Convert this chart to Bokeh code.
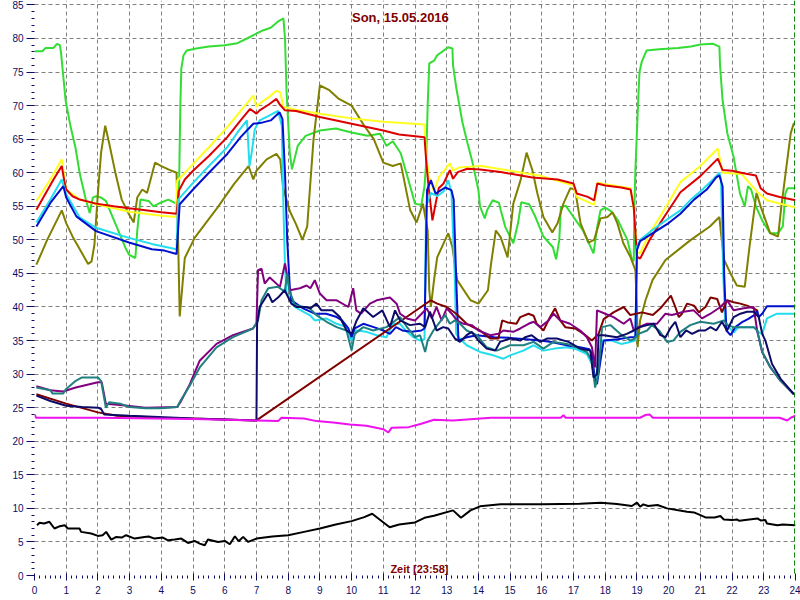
from math import pi
from bokeh.plotting import figure
from bokeh.models import Range1d, Label, Span, SingleIntervalTicker
from bokeh.embed import file_html
from bokeh.resources import INLINE

TITLE = "Son, 15.05.2016"
X_LABEL = "Zeit [23:58]"
Y_LABEL = "°C"

# ---- series data (hour of day, temperature) ----
green_h = [0.0, 0.25, 0.35, 0.6, 0.71, 0.8, 0.84, 0.98, 1.14, 1.29, 1.43, 1.63, 1.74, 1.84, 1.94, 2.1, 2.25, 2.56, 2.87, 2.98, 3.18, 3.24, 3.34, 3.6, 3.75, 3.96, 4.22, 4.43, 4.55,
           4.6, 4.63, 4.7, 4.8, 5.1, 5.5, 6.0, 6.4, 6.7, 6.95, 7.2, 7.45, 7.7, 7.85, 7.9, 7.95, 8.05, 8.12, 8.3, 8.55, 9.0, 9.5, 10.0, 10.5, 10.9, 11.1, 11.3, 11.55, 11.77, 12.0, 12.2,
           12.3, 12.35, 12.4, 12.45, 12.6, 12.7, 12.85, 13.05, 13.18, 13.2, 13.3, 13.5, 13.65, 13.8, 14.0, 14.05, 14.2, 14.28, 14.45, 14.65, 14.7, 14.85, 15.1, 15.25, 15.35, 15.6, 15.8,
           16.05, 16.35, 16.45, 16.55, 16.6, 16.75, 17.0, 17.3, 17.55, 17.63, 17.75, 17.85, 18.0, 18.2, 18.4, 18.7, 18.85, 18.9, 18.92, 18.95, 19.05, 19.08, 19.15, 19.3, 19.7, 20.3,
           20.7, 21.0, 21.4, 21.6, 21.62, 21.7, 21.85, 22.05, 22.25, 22.4, 22.5, 22.6, 22.75, 22.95, 23.2, 23.45, 23.6, 23.68, 23.75, 24.0]
green_v = [78.1, 78.1, 78.6, 78.6, 79.2, 79.0, 77.7, 70.8, 66.8, 63.8, 59.8, 55.8, 54.0, 56.3, 56.5, 56.3, 55.8, 52.3, 48.8, 47.8, 47.3, 51.3, 56.0, 55.8, 55.0, 55.5, 56.0, 55.5, 55.3,
           70.0, 75.5, 77.5, 78.2, 78.5, 78.8, 79.0, 79.3, 80.0, 80.6, 81.2, 81.6, 82.6, 83.0, 80.0, 72.0, 63.0, 60.5, 64.0, 65.5, 66.3, 66.6, 66.0, 65.5, 65.8, 64.0, 64.7, 62.9, 59.3, 55.4, 55.2,
           58.0, 61.4, 70.0, 76.3, 76.7, 77.5, 78.0, 78.7, 78.5, 76.0, 72.7, 67.4, 64.5, 61.8, 57.4, 55.0, 53.2, 54.5, 55.9, 55.5, 54.5, 51.9, 49.5, 52.5, 55.6, 55.3, 53.4,
           50.5, 48.9, 47.1, 50.0, 54.8, 55.1, 53.4, 51.4, 48.8, 48.0, 52.0, 54.4, 54.8, 54.2, 52.9, 50.0, 46.9, 46.9, 55.0, 60.4, 72.0, 75.0, 76.5, 78.2, 78.4, 78.6,
           78.8, 79.1, 79.2, 78.8, 76.0, 70.8, 65.9, 62.3, 56.9, 55.0, 58.0, 57.5, 55.0, 52.9, 51.0, 51.0, 52.0, 56.9, 57.7, 57.7]

olive_h = [0.06, 0.4, 0.86, 1.0, 1.22, 1.5, 1.69, 1.8, 1.89, 2.0, 2.1, 2.23, 2.35, 2.56, 2.75, 2.98, 3.13, 3.24, 3.4, 3.55, 3.8, 4.0, 4.22, 4.48, 4.52, 4.58, 4.74, 5.05, 5.4, 5.77,
           6.29, 6.75, 6.9, 7.0, 7.32, 7.63, 7.75, 7.84, 8.05, 8.25, 8.45, 8.6, 8.8, 9.0, 9.3, 9.6, 10.0, 10.4, 10.7, 11.0, 11.3, 11.55, 11.85, 12.05, 12.25, 12.4, 12.45, 12.5, 12.6,
           12.7, 13.05, 13.18, 13.33, 13.75, 14.0, 14.3, 14.4, 14.55, 14.7, 14.92, 15.1, 15.33, 15.52, 15.7, 15.86, 16.05, 16.33, 16.5, 16.68, 16.9, 17.05, 17.22, 17.47, 17.65,
           17.85, 18.07, 18.23, 18.38, 18.57, 18.8, 18.95, 19.0, 19.02, 19.1, 19.27, 19.49, 19.9, 20.7, 21.3, 21.6, 21.65, 21.75, 21.95, 22.15, 22.4, 22.55, 22.77, 22.9, 23.2,
           23.45, 23.55, 23.7, 23.85, 23.95]
olive_v = [46.3, 50.0, 54.4, 52.5, 50.3, 48.0, 46.4, 46.8, 49.3, 57.0, 63.0, 67.0, 64.5, 59.8, 56.0, 53.8, 52.6, 56.3, 57.5, 57.0, 61.5, 61.0, 60.5, 60.0, 52.0, 38.6, 47.3, 50.3, 52.5, 54.8,
           58.3, 61.0, 59.0, 60.3, 62.0, 62.8, 62.0, 57.8, 54.3, 52.3, 50.0, 52.0, 65.0, 73.0, 72.3, 71.0, 70.0, 67.0, 65.0, 61.5, 61.0, 61.4, 54.4, 52.6, 55.4, 51.4, 42.5, 40.0, 44.0,
           47.4, 51.0, 48.9, 44.0, 41.0, 40.5, 42.5, 46.5, 51.4, 50.4, 47.4, 55.4, 58.9, 63.0, 60.4, 56.9, 53.4, 51.1, 52.5, 55.4, 57.7, 57.5, 52.5, 49.6, 50.0,
           53.2, 53.4, 54.1, 52.5, 49.5, 47.4, 45.5, 40.0, 34.0, 38.0, 41.0, 44.0, 47.0, 50.0, 52.0, 53.4, 51.0, 47.0, 45.0, 43.2, 43.0, 49.0, 57.0, 55.0, 51.0,
           50.5, 54.8, 60.4, 65.9, 67.4]

yellow_h = [0.06, 0.5, 0.86, 0.95, 1.0, 1.43, 1.94, 2.5, 3.0, 3.5, 4.0, 4.45, 4.5, 4.84, 5.5, 6.08, 6.5, 6.9, 7.0, 7.1, 7.4, 7.63, 7.75, 7.85, 8.25, 9.0, 10.0, 11.0, 12.3,
            12.35, 12.43, 12.6, 12.75, 13.1, 13.2, 13.4, 14.1, 15.0, 16.0, 17.0, 17.1, 17.65, 17.75, 18.0, 18.8, 18.9, 19.0, 19.1, 19.4, 19.8, 20.37, 21.0, 21.55, 21.7, 22.3,
            22.8, 23.1, 24.0]
yellow_v = [55.8, 59.0, 62.0, 59.0, 57.5, 56.0, 55.3, 54.7, 54.2, 53.9, 53.6, 53.4, 58.8, 60.5, 63.8, 66.8, 69.2, 71.5, 69.8, 70.3, 71.3, 72.2, 72.0, 69.8, 69.4, 68.8, 68.1, 67.6, 67.2,
            63.0, 59.5, 57.2, 59.3, 61.4, 60.3, 60.8, 61.0, 60.3, 59.5, 58.1, 56.4, 55.2, 58.5, 58.3, 57.7, 54.5, 48.2, 48.0, 51.0, 54.0, 58.6, 61.0, 63.6, 60.0, 59.8,
            57.1, 55.9, 54.8]

red_h = [0.06, 0.3, 0.6, 0.86, 0.95, 1.0, 1.2, 1.43, 1.94, 2.5, 2.98, 3.5, 4.0, 4.48, 4.55, 4.74, 5.0, 5.5, 6.08, 6.5, 6.8, 7.0, 7.1, 7.4, 7.63, 7.73, 7.9, 8.25, 9.0, 10.0,
         11.0, 11.5, 12.3, 12.35, 12.43, 12.55, 12.65, 12.75, 12.9, 13.1, 13.2, 13.35, 13.65, 14.05, 14.7, 15.7, 16.5, 17.0, 17.1, 17.45, 17.65, 17.75, 18.0, 18.5, 18.8,
         18.9, 19.0, 19.1, 19.4, 19.8, 20.37, 21.0, 21.55, 21.7, 22.0, 22.4, 22.75, 22.9, 23.1, 23.5, 24.0]
red_v = [54.5, 56.5, 59.0, 61.0, 58.5, 57.5, 56.5, 56.0, 55.4, 55.0, 54.7, 54.4, 54.1, 53.9, 57.3, 59.0, 60.3, 62.5, 65.3, 67.8, 69.5, 68.8, 69.3, 70.2, 71.0, 70.2, 69.3, 69.2, 68.3, 67.3,
         66.3, 65.7, 65.3, 62.0, 57.8, 52.9, 55.4, 57.7, 58.4, 60.4, 59.1, 60.1, 60.6, 60.5, 60.1, 59.3, 59.0, 58.4, 56.9, 56.4, 55.9, 58.4, 58.1, 57.8, 57.5,
         54.8, 47.5, 47.2, 50.0, 53.0, 57.1, 59.5, 62.1, 60.4, 60.3, 59.9, 59.6, 57.7, 56.9, 56.4, 55.9]

cyan_h = [0.06, 0.5, 0.86, 1.0, 1.43, 1.94, 2.98, 3.7, 4.48, 4.53, 5.0, 5.5, 6.08, 6.4, 6.7, 6.78, 6.85, 6.95, 7.1, 7.4, 7.68, 7.8, 7.85, 7.9, 7.95, 8.05, 8.21, 8.47, 8.68,
          8.84, 9.2, 9.53, 9.84, 10.0, 10.15, 10.47, 10.79, 11.1, 11.3, 11.53, 11.7, 11.95, 12.16, 12.3, 12.35, 12.5, 12.7, 12.9, 13.05, 13.15, 13.25, 13.3, 13.37, 13.63, 14.05,
          14.47, 14.79, 15.0, 15.42, 15.74, 16.05, 16.4, 16.79, 17.1, 17.42, 17.58, 17.68, 17.8, 17.9, 18.2, 18.5, 18.8, 18.95, 19.0, 19.1, 19.5, 20.0, 20.37, 20.7, 21.0, 21.4,
          21.6, 21.65, 21.72, 21.78, 21.9, 22.05, 22.2, 22.4, 22.7, 22.85, 22.95, 23.1, 23.42, 24.0]
cyan_v = [52.6, 56.0, 59.0, 56.8, 53.3, 51.8, 50.3, 49.4, 48.6, 56.0, 58.5, 61.0, 63.8, 66.0, 67.8, 61.0, 63.0, 66.5, 67.8, 68.5, 69.2, 67.0, 55.0, 46.0, 42.0, 41.3, 40.0, 39.3, 38.8,
          38.0, 38.3, 37.5, 37.0, 35.0, 36.5, 36.3, 35.8, 35.5, 37.5, 37.5, 36.5, 35.5, 35.0, 35.2, 55.0, 57.0, 56.5, 57.2, 58.9, 57.0, 45.0, 36.0, 35.5, 34.3, 33.3,
          32.8, 32.3, 32.8, 33.5, 34.3, 33.5, 33.8, 34.0, 33.7, 33.0, 31.5, 29.0, 32.0, 35.0, 35.0, 34.5, 34.8, 35.0, 49.0, 50.0, 51.5, 53.2, 54.4, 56.0, 57.2, 59.0,
          60.0, 59.0, 45.0, 38.0, 37.0, 36.2, 37.0, 37.0, 37.0, 36.2, 36.0, 38.3, 39.0, 39.0]

blue_h = [0.06, 0.5, 0.91, 1.0, 1.32, 1.94, 2.98, 3.7, 4.1, 4.48, 4.58, 5.0, 5.5, 6.08, 6.5, 6.9, 7.2, 7.45, 7.73, 7.82, 7.9, 7.97, 8.05, 8.1, 8.47, 8.84, 9.2, 9.53, 9.7, 9.9,
          10.0, 10.1, 10.37, 10.7, 11.0, 11.21, 11.4, 11.6, 11.9, 12.2, 12.3, 12.33, 12.38, 12.5, 12.65, 12.95, 13.15, 13.22, 13.3, 13.37, 13.63, 13.95, 14.5, 15.0, 15.5, 15.95,
          16.3, 16.6, 16.9, 17.2, 17.5, 17.58, 17.68, 17.74, 17.85, 17.95, 18.4, 18.8, 18.95, 19.0, 19.1, 19.5, 20.0, 20.37, 20.8, 21.2, 21.5, 21.6, 21.7, 21.75, 21.82, 21.95,
          22.1, 22.3, 22.5, 22.7, 22.79, 22.84, 22.95, 23.1, 24.0]
blue_v = [52.0, 55.5, 58.0, 56.3, 53.5, 51.3, 49.6, 48.6, 48.4, 47.9, 55.3, 57.5, 60.0, 62.8, 65.3, 67.3, 67.5, 67.8, 69.0, 68.0, 60.0, 50.0, 43.0, 41.0, 39.8, 39.0, 39.0, 38.5, 38.0, 36.8,
          35.5, 36.8, 37.5, 37.0, 36.5, 36.0, 37.0, 36.5, 36.3, 36.5, 36.8, 44.0, 57.4, 58.9, 56.9, 57.8, 57.4, 56.0, 44.0, 35.0, 35.5, 35.8, 35.5, 35.4, 35.2, 35.0,
          34.8, 34.5, 34.2, 34.0, 33.7, 33.0, 29.0, 28.5, 32.0, 35.0, 35.2, 35.5, 35.5, 48.5, 49.8, 51.0, 52.5, 53.9, 56.0, 57.5, 59.3, 59.6, 58.0, 45.0, 36.5, 35.8,
          37.0, 37.7, 38.2, 38.8, 39.5, 38.5, 39.0, 40.1, 40.1]

maroon_h = [0.06, 1.0, 2.0, 2.6, 4.0, 5.5, 7.0, 12.5, 12.7, 13.0, 13.3, 13.63, 14.05, 14.37, 14.63, 14.75, 14.92, 15.2, 15.32, 15.58, 15.74, 15.84, 16.05, 16.26, 16.42, 16.58,
            16.74, 17.05, 17.32, 17.58, 17.79, 17.95, 18.26, 18.58, 18.79, 19.16, 19.5, 19.74, 20.07, 20.21, 20.32, 20.42, 20.58, 20.8, 20.95, 21.16, 21.32, 21.53, 21.68, 21.84,
            22.05, 22.26, 22.47, 22.68, 22.79]
maroon_v = [27.0, 25.6, 24.3, 23.8, 23.5, 23.3, 23.1, 41.0, 40.5, 40.0, 39.0, 37.5, 36.5, 35.3, 35.3, 38.0, 37.7, 37.5, 38.5, 39.0, 38.7, 37.5, 36.5, 38.5, 39.8, 38.0,
            37.0, 36.8, 36.0, 35.0, 36.0, 38.2, 39.2, 40.0, 38.8, 39.2, 38.8, 39.8, 41.7, 40.0, 38.5, 39.0, 40.5, 40.2, 39.2, 40.0, 41.4, 41.2, 39.2, 41.0,
            40.7, 40.5, 40.2, 39.8, 39.5]

purple_h = [0.06, 0.5, 0.9, 1.3, 2.0, 2.12, 2.25, 2.7, 3.5, 4.5, 4.6, 4.9, 5.21, 5.74, 6.26, 6.89, 7.0, 7.05, 7.16, 7.26, 7.42, 7.74, 7.9, 8.05, 8.37, 8.58, 8.7, 8.84, 9.0,
            9.21, 9.53, 9.9, 10.05, 10.15, 10.3, 10.58, 10.79, 11.21, 11.42, 11.53, 11.74, 12.0, 12.21, 12.37, 12.53, 12.68, 12.84, 13.0, 13.16, 13.32, 13.53, 13.79, 14.0, 14.37,
            14.63, 14.79, 15.1, 15.32, 15.58, 15.74, 15.95, 16.21, 16.37, 16.58, 16.89, 17.21, 17.42, 17.58, 17.68, 17.74, 18.0, 18.26, 18.58, 18.79, 18.9, 19.05, 19.32, 19.63,
            19.9, 20.1, 20.26, 20.47, 20.79, 21.05, 21.32, 21.63, 21.84, 22.05, 22.37, 22.68, 22.79, 22.95, 23.21, 23.53, 23.95]
purple_v = [28.2, 27.6, 27.4, 28.0, 28.8, 28.8, 25.6, 25.4, 25.0, 25.1, 25.8, 28.5, 32.0, 34.5, 35.8, 36.8, 37.5, 45.5, 45.7, 43.5, 44.4, 43.0, 46.5, 42.5, 42.8, 43.2, 42.8, 44.0, 42.0,
            41.0, 41.0, 40.0, 42.8, 39.5, 39.0, 40.5, 41.0, 41.4, 40.5, 39.0, 38.3, 38.0, 39.0, 39.8, 38.3, 40.0, 38.0, 39.8, 39.0, 38.0, 37.5, 37.3, 36.5, 35.8,
            36.0, 36.5, 36.3, 36.8, 37.5, 37.8, 37.0, 38.0, 39.0, 38.0, 37.5, 36.5, 35.5, 34.0, 31.0, 39.5, 39.0, 38.5, 37.5, 38.3, 36.5, 37.0, 37.5, 37.5,
            39.0, 38.8, 39.0, 39.3, 39.5, 38.3, 39.0, 40.0, 41.0, 39.5, 39.8, 40.0, 36.5, 33.3, 31.0, 29.0, 27.0]

teal_h = [0.06, 0.5, 0.57, 0.9, 1.0, 1.3, 1.5, 2.0, 2.1, 2.25, 2.35, 2.7, 3.0, 3.5, 4.0, 4.5, 4.6, 4.9, 5.21, 5.74, 6.26, 6.89, 7.05, 7.16, 7.37, 7.68, 7.89, 7.97, 8.03, 8.21,
          8.68, 8.89, 9.21, 9.53, 9.84, 10.0, 10.1, 10.37, 10.68, 11.1, 11.53, 11.75, 12.0, 12.16, 12.32, 12.4, 12.58, 12.74, 12.95, 13.1, 13.26, 13.42, 13.63, 13.95, 14.26,
          14.58, 15.0, 15.42, 15.74, 16.05, 16.37, 16.79, 17.1, 17.42, 17.58, 17.68, 17.78, 17.9, 18.16, 18.47, 18.79, 18.9, 19.05, 19.32, 19.47, 19.7, 19.95, 20.15, 20.37,
          20.68, 21.0, 21.42, 21.74, 21.85, 22.05, 22.68, 22.79, 22.95, 23.21, 23.53, 23.95]
teal_v = [28.0, 27.6, 27.1, 27.1, 27.8, 29.0, 29.5, 29.5, 29.0, 25.0, 25.8, 25.6, 25.1, 24.9, 24.9, 25.1, 26.0, 28.3, 31.0, 34.0, 35.5, 36.8, 38.0, 41.0, 42.8, 43.0, 42.3, 45.0, 42.5, 40.3,
          39.8, 38.8, 37.8, 37.0, 36.5, 33.5, 36.0, 37.0, 36.5, 37.0, 38.5, 37.0, 35.5, 35.8, 33.3, 35.0, 36.5, 37.5, 38.8, 37.5, 38.0, 37.5, 36.5, 35.8, 34.0,
          33.5, 34.3, 34.3, 34.8, 33.8, 34.8, 34.5, 34.0, 33.3, 32.0, 28.0, 30.0, 37.0, 37.3, 36.0, 35.0, 35.2, 36.0, 36.5, 37.3, 36.5, 34.8, 35.0, 36.3,
          37.3, 37.8, 37.5, 38.0, 37.3, 37.0, 37.0, 36.5, 33.3, 31.0, 29.0, 27.0]

navy_h = [0.06, 0.5, 1.0, 1.5, 2.0, 2.1, 2.2, 3.0, 5.0, 7.0, 7.02, 7.1, 7.37, 7.5, 7.68, 7.89, 8.1, 8.26, 8.58, 8.7, 8.89, 9.05, 9.4, 9.63, 9.84, 10.0, 10.16, 10.37, 10.68,
          10.97, 11.21, 11.37, 11.53, 11.84, 12.16, 12.32, 12.47, 12.68, 12.89, 13.05, 13.26, 13.42, 13.63, 13.79, 14.0, 14.26, 14.53, 14.68, 15.0, 15.32, 15.47, 15.68, 15.95,
          16.16, 16.47, 16.84, 17.21, 17.53, 17.63, 17.74, 17.79, 17.95, 18.37, 18.68, 18.9, 19.1, 19.32, 19.53, 19.74, 19.9, 20.05, 20.21, 20.37, 20.55, 20.74, 20.95, 21.15,
          21.32, 21.5, 21.68, 21.84, 22.05, 22.26, 22.47, 22.68, 22.84, 22.95, 23.05, 23.26, 23.53, 23.95]
navy_v = [26.8, 26.0, 25.3, 25.1, 25.0, 24.8, 24.0, 23.8, 23.4, 23.1, 37.5, 40.0, 42.0, 40.7, 41.4, 42.5, 40.5, 40.0, 40.0, 39.8, 40.5, 39.5, 39.5, 38.5, 36.5, 36.0, 38.0, 39.8, 38.5,
          39.5, 37.0, 39.5, 38.0, 37.3, 37.5, 37.0, 39.3, 36.5, 37.0, 36.8, 35.3, 34.8, 35.8, 36.3, 35.0, 33.8, 33.5, 34.8, 35.3, 35.0, 35.5, 35.8, 34.8,
          35.3, 35.3, 34.8, 33.8, 33.5, 29.5, 30.0, 35.8, 35.8, 35.5, 36.0, 36.5, 37.0, 37.3, 37.5, 35.8, 35.5, 36.8, 37.8, 35.5, 36.5, 36.0, 36.5, 36.5,
          37.0, 36.5, 37.8, 36.5, 38.5, 39.0, 39.3, 39.3, 38.5, 36.0, 35.0, 31.5, 29.3, 27.0]

magenta_h = [0.0, 0.05, 2.0, 5.0, 7.0, 7.68, 7.79, 8.5, 8.89, 9.42, 9.95, 10.47, 11.0, 11.16, 11.26, 11.8, 12.2, 12.6, 13.2, 14.4, 16.6, 16.68, 16.75, 19.1, 19.26, 19.4,
             19.5, 23.5, 23.74, 23.85, 24.0]
magenta_v = [24.0, 23.5, 23.5, 23.3, 23.1, 23.0, 23.5, 23.4, 23.0, 22.8, 22.5, 22.3, 21.8, 21.3, 22.0, 22.1, 22.6, 23.2, 23.1, 23.5, 23.5, 23.9, 23.5, 23.5, 23.9, 24.0,
             23.5, 23.5, 23.1, 23.5, 23.8]

black_h = [0.08, 0.16, 0.3, 0.47, 0.63, 0.8, 0.95, 1.05, 1.42, 1.47, 1.79, 2.0, 2.15, 2.26, 2.42, 2.58, 2.75, 2.89, 3.16, 3.47, 3.6, 3.79, 4.05, 4.21, 4.42, 4.63, 4.84, 5.05,
           5.21, 5.37, 5.47, 5.79, 6.0, 6.16, 6.32, 6.44, 6.58, 6.74, 7.0, 7.5, 8.0, 8.5, 9.0, 9.5, 10.0, 10.4, 10.65, 11.2, 11.5, 12.0, 12.3, 12.6, 13.2, 13.45, 13.75, 14.05,
           14.7, 16.0, 17.2, 17.86, 18.37, 18.84, 19.0, 19.1, 19.2, 19.35, 19.65, 19.95, 20.26, 20.58, 20.8, 21.0, 21.16, 21.45, 21.63, 21.74, 22.0, 22.15, 22.23, 22.54, 22.8,
           22.9, 23.05, 23.1, 23.43, 23.6, 24.0]
black_v = [7.5, 7.85, 7.75, 8.0, 7.0, 7.35, 7.5, 7.0, 7.0, 6.5, 6.25, 5.9, 6.0, 6.5, 5.35, 5.75, 5.65, 6.0, 5.5, 5.75, 5.8, 5.5, 5.65, 5.25, 5.35, 5.5, 4.85, 5.15,
           4.75, 4.5, 5.35, 5.0, 5.15, 4.65, 5.85, 5.1, 5.75, 5.0, 5.5, 5.8, 6.0, 6.5, 7.0, 7.6, 8.1, 8.7, 9.2, 7.2, 7.6, 7.9, 8.6, 8.9, 9.7, 8.6, 9.7, 10.3,
           10.6, 10.6, 10.7, 10.85, 10.65, 10.35, 10.85, 10.25, 10.6, 10.35, 10.5, 10.0, 9.75, 9.5, 9.4, 9.0, 8.65, 8.65, 8.85, 8.35, 8.25, 8.35, 8.15, 8.35, 8.5,
           8.2, 8.25, 7.75, 7.5, 7.6, 7.5]

now_marker = 23.97

series = [
    (green_h, green_v, "#33dd33"),
    (olive_h, olive_v, "#808000"),
    (yellow_h, yellow_v, "#ffff22"),
    (red_h, red_v, "#dd0000"),
    (cyan_h, cyan_v, "#22ddee"),
    (blue_h, blue_v, "#0010cc"),
    (maroon_h, maroon_v, "#800000"),
    (purple_h, purple_v, "#800080"),
    (teal_h, teal_v, "#208080"),
    (navy_h, navy_v, "#0c0c68"),
    (magenta_h, magenta_v, "#ee11ee"),
    (black_h, black_v, "#000000"),
]

FONT = "Liberation Sans"
TICK_COLOR = "#0c0c64"
LABEL_RED = "#800000"

p = figure(width=800, height=600, output_backend="svg", toolbar_location=None,
           x_range=Range1d(0, 24), y_range=Range1d(0, 85.66),
           min_border_left=34, min_border_right=5, min_border_top=0, min_border_bottom=25)
p.outline_line_color = None
p.background_fill_color = "white"
p.border_fill_color = "white"

p.xaxis.ticker = SingleIntervalTicker(interval=1, num_minor_ticks=6)
p.yaxis.ticker = SingleIntervalTicker(interval=5, num_minor_ticks=5)

for ax in (p.xaxis, p.yaxis):
    ax.axis_line_color = None
    ax.axis_label_standoff = 0
    ax.major_tick_line_color = TICK_COLOR
    ax.minor_tick_line_color = TICK_COLOR
    ax.major_label_text_color = TICK_COLOR
    ax.major_label_text_font = FONT
    ax.major_label_text_font_size = "10px"

p.yaxis.major_tick_out = 8
p.yaxis.major_tick_in = 0
p.yaxis.minor_tick_out = 3
p.yaxis.minor_tick_in = 0
p.yaxis.major_label_standoff = 3

p.xaxis.major_tick_out = 5
p.xaxis.major_tick_in = 2
p.xaxis.minor_tick_out = 3
p.xaxis.minor_tick_in = 0
p.xaxis.major_label_standoff = 5

for g in (p.xgrid, p.ygrid):
    g.grid_line_color = "#808080"
    g.grid_line_dash = "4 3"
    g.grid_line_width = 1

for hx, vy, col in series:
    p.line(hx, vy, line_color=col, line_width=2)

p.add_layout(Span(location=now_marker, dimension="height", line_color="#008000",
                  line_dash="5 3", line_width=1))

p.add_layout(Label(x=11.54, y=83.16, text=TITLE, text_align="center", text_baseline="middle",
                   text_color=LABEL_RED, text_font=FONT, text_font_size="13px",
                   text_font_style="bold"))
p.add_layout(Label(x=12.14, y=0.9, text=X_LABEL, text_align="center", text_baseline="middle",
                   text_color=LABEL_RED, text_font=FONT, text_font_size="11px",
                   text_font_style="bold"))
p.add_layout(Label(x=-0.72, y=42.5, text=Y_LABEL, angle=pi / 2, text_align="center",
                   text_baseline="middle", text_color=LABEL_RED, text_font=FONT,
                   text_font_size="11px"))

open("out.html", "w").write(file_html(p, INLINE))
